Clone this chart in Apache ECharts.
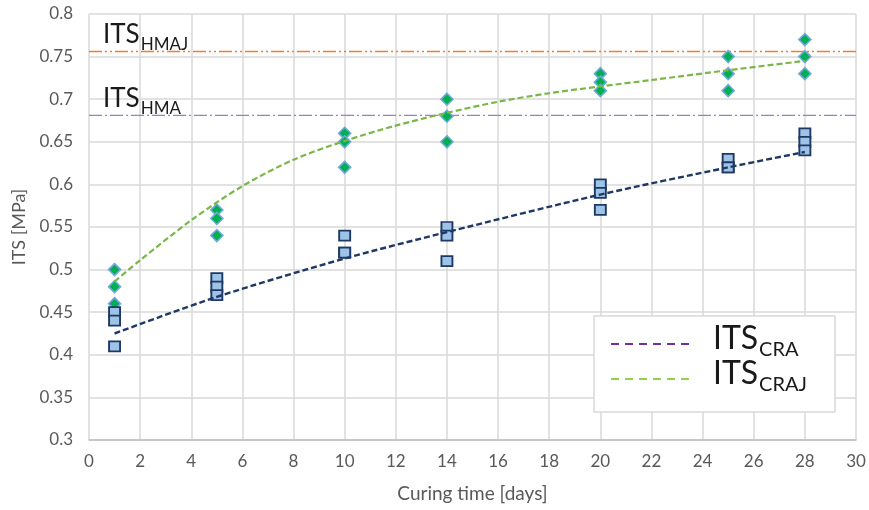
<!DOCTYPE html>
<html>
<head>
<meta charset="utf-8">
<script src="https://cdn.jsdelivr.net/npm/echarts@6/dist/echarts.min.js"></script>
<style>
  html, body { margin: 0; padding: 0; background: #ffffff; }
  #chart { width: 869px; height: 510px; }
</style>
</head>
<body>
<div id="chart"></div>
<script>
// Curing days at which specimens were tested
const curingDays = [1, 5, 10, 14, 20, 25, 28];

// Individual ITS results [MPa] per curing day (three specimens each)
const itsCRA = [
  [0.45, 0.44, 0.41],
  [0.49, 0.48, 0.47],
  [0.54, 0.52, 0.52],
  [0.55, 0.54, 0.51],
  [0.60, 0.59, 0.57],
  [0.63, 0.62, 0.62],
  [0.66, 0.65, 0.64]
];
const itsCRAJ = [
  [0.50, 0.48, 0.46],
  [0.57, 0.56, 0.54],
  [0.66, 0.65, 0.62],
  [0.70, 0.68, 0.65],
  [0.73, 0.72, 0.71],
  [0.75, 0.73, 0.71],
  [0.77, 0.75, 0.73]
];

// Trend curves
const craTrendDays = [1, 5, 10, 14, 20, 25, 28];
const craTrendValues = [0.425, 0.468, 0.513, 0.544, 0.588, 0.620, 0.638];
const crajTrendDays = [1, 2, 4, 6, 8, 10, 12, 14, 16, 18, 20, 22, 25, 28];
const crajTrendValues = [0.486, 0.511, 0.558, 0.598, 0.629, 0.651, 0.669, 0.684, 0.697, 0.707, 0.715, 0.7225, 0.734, 0.745];

// Reference strengths of the hot mix asphalts
const itsHMA = 0.681;
const itsHMAJ = 0.756;

// Axis ranges
const xRange = [0, 30];
const xStep = 2;
const yRange = [0.3, 0.8];
const yStep = 0.05;

const FONT = 'Lato, "Open Sans", sans-serif';
const GREY_TEXT = '#595959';

function toPoints(days, groups) {
  const pts = [];
  days.forEach((d, i) => groups[i].forEach(v => pts.push([d, v])));
  return pts;
}
function zip(xs, ys) { return xs.map((x, i) => [x, ys[i]]); }

const chart = echarts.init(document.getElementById('chart'), null, { renderer: 'canvas' });

const option = {
  animation: false,
  backgroundColor: '#ffffff',
  grid: { left: 89, right: 13, top: 14, bottom: 70 },
  xAxis: {
    type: 'value',
    min: xRange[0], max: xRange[1], interval: xStep,
    name: 'Curing time [days]',
    nameLocation: 'middle',
    nameGap: 44,
    nameTextStyle: { color: GREY_TEXT, fontFamily: FONT, fontSize: 19 },
    axisLine: { show: true, lineStyle: { color: '#bfbfbf', width: 1.5 } },
    axisTick: { show: false },
    axisLabel: { color: GREY_TEXT, fontFamily: FONT, fontSize: 17, margin: 13 },
    splitLine: { show: true, lineStyle: { color: '#d9d9d9', width: 1.5 } }
  },
  yAxis: {
    type: 'value',
    min: yRange[0], max: yRange[1], interval: yStep,
    name: 'ITS [MPa]',
    nameLocation: 'middle',
    nameGap: 61,
    nameTextStyle: { color: GREY_TEXT, fontFamily: FONT, fontSize: 18 },
    axisLine: { show: false },
    axisTick: { show: false },
    axisLabel: {
      color: GREY_TEXT, fontFamily: FONT, fontSize: 17, margin: 16,
      formatter: v => String(parseFloat(v.toFixed(2)))
    },
    splitLine: { show: true, lineStyle: { color: '#d9d9d9', width: 1.5 } }
  },
  series: [
    {
      name: 'ITS HMAJ', type: 'line', z: 2,
      data: [[xRange[0], itsHMAJ], [xRange[1], itsHMAJ]],
      showSymbol: false, symbol: 'none',
      lineStyle: { color: '#ED7D31', width: 1.3, type: [13, 3, 2, 3, 2, 3] }
    },
    {
      name: 'ITS HMA', type: 'line', z: 2,
      data: [[xRange[0], itsHMA], [xRange[1], itsHMA]],
      showSymbol: false, symbol: 'none',
      lineStyle: { color: '#9C7DCC', width: 1.3, type: [13, 3, 2, 3] }
    },
    {
      name: 'CRAJ', type: 'scatter', z: 3,
      data: toPoints(curingDays, itsCRAJ),
      symbol: 'diamond', symbolSize: [12, 12],
      itemStyle: { color: '#00B050', borderColor: '#6FA8DC', borderWidth: 1.6, opacity: 1 }
    },
    {
      name: 'CRA', type: 'scatter', z: 3,
      data: toPoints(curingDays, itsCRA),
      symbol: 'rect', symbolSize: [11, 10],
      itemStyle: { color: '#9DC3E6', borderColor: '#1F3864', borderWidth: 1.8, opacity: 1 }
    },
    {
      name: 'CRAJ trend', type: 'line', z: 4,
      data: zip(crajTrendDays, crajTrendValues),
      smooth: 0.3, showSymbol: false, symbol: 'none',
      lineStyle: { color: '#7AB648', width: 2.2, type: [6, 3] }
    },
    {
      name: 'CRA trend', type: 'line', z: 4,
      data: zip(craTrendDays, craTrendValues),
      smooth: 0.3, showSymbol: false, symbol: 'none',
      lineStyle: { color: '#1F3864', width: 2.4, type: [6, 3] }
    }
  ]
};

chart.setOption(option);

// Text measurement for subscript placement
const measureCtx = document.createElement('canvas').getContext('2d');
function textWidth(str, size) {
  measureCtx.font = size + 'px ' + FONT;
  return measureCtx.measureText(str).width;
}

// Main text followed by a lowered subscript, baseline at (x, baseline)
function subscriptLabel(x, baseline, main, sub, mainSize, subSize, drop) {
  const w = textWidth(main, mainSize);
  return [
    {
      type: 'text', x: x, y: baseline - 0.3 * mainSize, z: 100,
      style: { text: main, font: mainSize + 'px ' + FONT, fill: '#1a1a1a', verticalAlign: 'middle', align: 'left' }
    },
    {
      type: 'text', x: x + w + 1, y: baseline + drop - 0.3 * subSize, z: 100,
      style: { text: sub, font: subSize + 'px ' + FONT, fill: '#1a1a1a', verticalAlign: 'middle', align: 'left' }
    }
  ];
}

const hmajY = chart.convertToPixel({ yAxisIndex: 0 }, itsHMAJ);
const hmaY = chart.convertToPixel({ yAxisIndex: 0 }, itsHMA);
const labelX = chart.convertToPixel({ xAxisIndex: 0 }, 0.55);

const graphics = [];
graphics.push(...subscriptLabel(labelX, hmajY - 9, 'ITS', 'HMAJ', 26, 17, 7));
graphics.push(...subscriptLabel(labelX, hmaY - 9, 'ITS', 'HMA', 26, 17, 7));

// Legend box
const lg = { x: 594, y: 316, w: 241, h: 96 };
graphics.push({
  type: 'rect', z: 90,
  shape: { x: lg.x, y: lg.y, width: lg.w, height: lg.h },
  style: { fill: '#ffffff', stroke: '#d9d9d9', lineWidth: 1.5 }
});
const legendRows = [
  { color: '#7030A0', sub: 'CRA', lineY: 344, baseline: 348 },
  { color: '#92D050', sub: 'CRAJ', lineY: 379, baseline: 383 }
];
legendRows.forEach(r => {
  graphics.push({
    type: 'line', z: 95,
    shape: { x1: 611, y1: r.lineY, x2: 691, y2: r.lineY },
    style: { stroke: r.color, lineWidth: 2, lineDash: [8, 6] }
  });
  graphics.push(...subscriptLabel(713, r.baseline, 'ITS', r.sub, 32, 20, 8));
});

chart.setOption({ graphic: graphics });
</script>
</body>
</html>
